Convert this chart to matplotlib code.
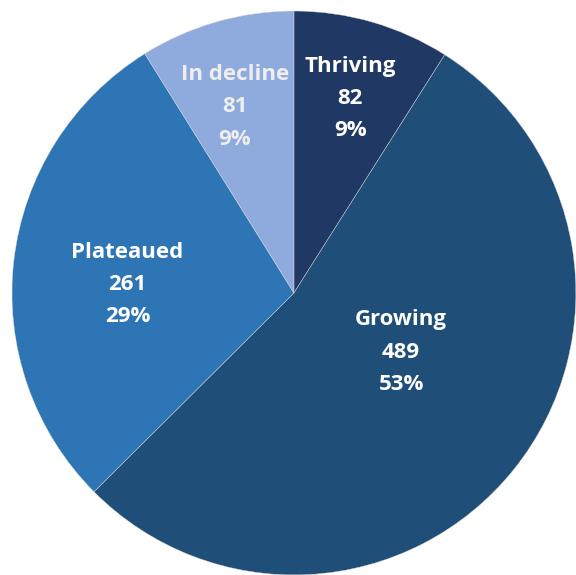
import matplotlib.pyplot as plt

# data
categories = ['Thriving', 'Growing', 'Plateaued', 'In decline']
counts = [82, 489, 261, 81]
pct_labels = ['9%', '53%', '29%', '9%']
colors = ['#203864', '#1f4e79', '#2e75b6', '#8faadc']
text_colors = ['white', 'white', 'white', '#eeeeee']
# label spots (data coords, pie radius = 1)
label_xy = [(0.20, 0.69), (0.38, -0.21), (-0.59, 0.03), (-0.21, 0.66)]

fig = plt.figure(figsize=(5.76, 5.75), dpi=100)
ax = fig.add_axes([0.0208, 0.0, 0.979, 0.981])

ax.pie(counts, colors=colors, startangle=90, counterclock=False,
       radius=1, wedgeprops=dict(edgecolor='#d9d9d9', linewidth=0.3))
ax.set_xlim(-1, 1)
ax.set_ylim(-1, 1)
ax.set_aspect('equal')
ax.axis('off')

for cat, n, p, (x, y), tc in zip(categories, counts, pct_labels, label_xy, text_colors):
    ax.text(x, y, f'{cat}\n{n}\n{p}', ha='center', va='center', color=tc,
            fontsize=16, fontweight='bold', family='Open Sans', linespacing=1.7)

fig.savefig('out.png', dpi=100)
